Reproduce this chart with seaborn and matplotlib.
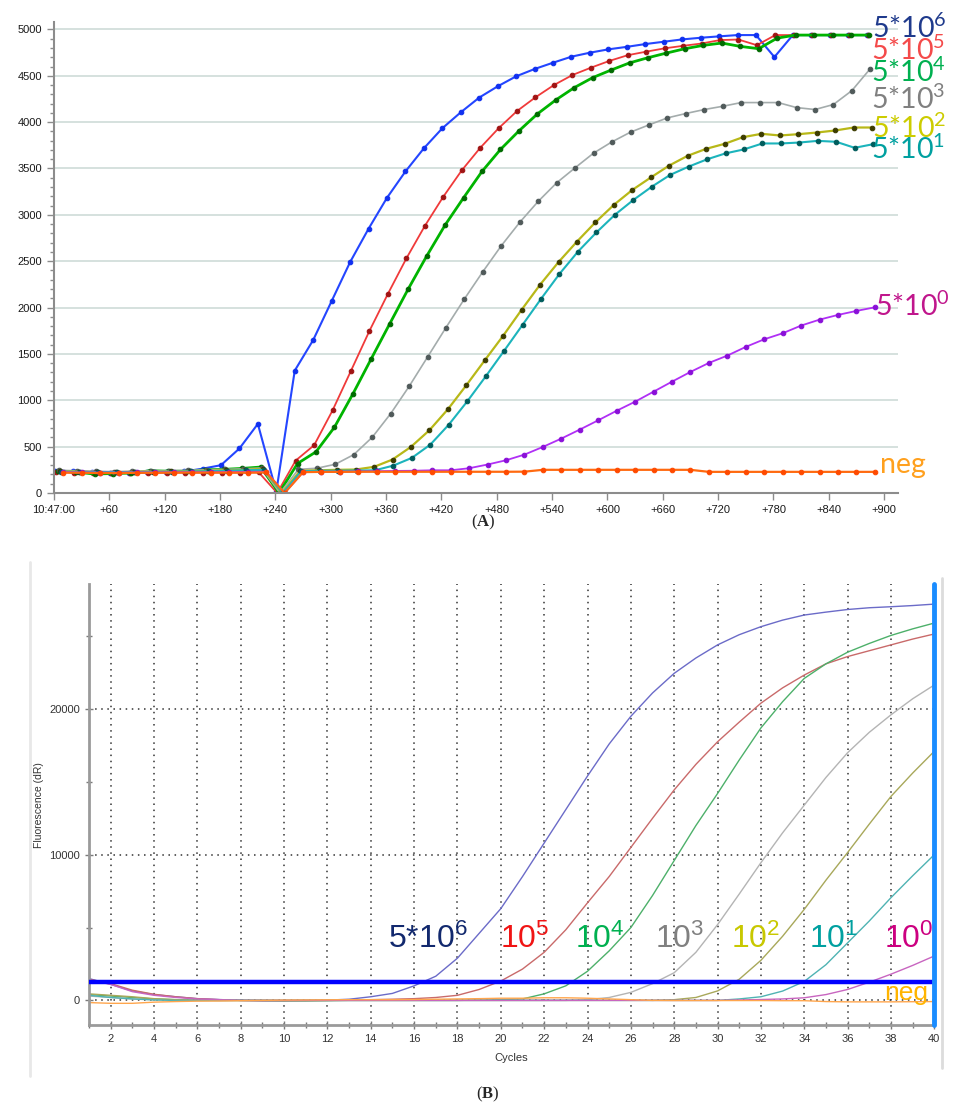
import numpy as np
import pandas as pd
import matplotlib
matplotlib.use("Agg")
import matplotlib.pyplot as plt
import seaborn as sns
from matplotlib.lines import Line2D
from matplotlib.ticker import MultipleLocator

sns.set_style("ticks")
plt.rcParams["font.family"] = ["Liberation Sans", "DejaVu Sans"]
plt.rcParams["mathtext.default"] = "regular"
plt.rcParams["mathtext.fontset"] = "custom"
plt.rcParams["mathtext.bf"] = "Liberation Serif:bold"

# ---------------- Panel A data (fluorescence vs time, 20 s sampling) ----------------
t_base = np.arange(0, 900, 20)
a_names = ["5*10$^{6}$", "5*10$^{5}$", "5*10$^{4}$", "5*10$^{3}$",
           "5*10$^{2}$", "5*10$^{1}$", "5*10$^{0}$", "neg"]
a_offsets = [1, 2, 4, 5, 7, 8, 10, 10]   # channel read-out delay (s)

a_1e6 = [240, 235, 225, 215, 220, 225, 230, 232, 262, 300, 480, 745, 15, 1320, 1650,
         2070, 2490, 2850, 3184, 3468, 3718, 3934, 4106, 4265, 4386, 4494, 4573, 4641,
         4706, 4749, 4785, 4812, 4842, 4867, 4892, 4910, 4925, 4939, 4939, 4702, 4939,
         4939, 4939, 4939, 4939]
a_1e5 = [225, 220, 215, 215, 218, 218, 220, 220, 220, 220, 220, 222, 0, 350, 515,
         891, 1319, 1749, 2148, 2530, 2880, 3195, 3479, 3722, 3934, 4120, 4268, 4400,
         4508, 4587, 4660, 4722, 4760, 4796, 4823, 4848, 4885, 4891, 4830, 4939, 4939,
         4939, 4939, 4939, 4939]
a_1e4 = [240, 225, 205, 210, 215, 240, 235, 235, 250, 255, 265, 280, 0, 318, 444,
         709, 1068, 1449, 1826, 2200, 2555, 2890, 3184, 3468, 3705, 3905, 4088, 4239,
         4372, 4480, 4562, 4639, 4695, 4745, 4792, 4828, 4853, 4817, 4792, 4906, 4939,
         4939, 4939, 4939, 4939]
a_1e3 = [245, 240, 235, 230, 235, 240, 240, 245, 250, 255, 260, 270, 0, 255, 267,
         310, 414, 601, 856, 1150, 1467, 1785, 2094, 2388, 2668, 2920, 3146, 3346,
         3508, 3666, 3788, 3892, 3970, 4046, 4093, 4136, 4171, 4211, 4211, 4211, 4157,
         4136, 4190, 4340, 4577]
a_1e2 = [235, 230, 225, 225, 228, 230, 232, 235, 240, 245, 250, 260, 0, 240, 245,
         250, 253, 282, 361, 498, 677, 903, 1162, 1431, 1697, 1977, 2247, 2491,
         2712, 2920, 3108, 3269, 3403, 3532, 3637, 3712, 3766, 3838, 3874, 3856, 3870,
         3888, 3910, 3942, 3942]
a_1e1 = [230, 228, 225, 225, 225, 228, 230, 232, 235, 240, 245, 250, 0, 235, 240,
         240, 242, 245, 296, 379, 522, 737, 988, 1257, 1534, 1814, 2094, 2363,
         2603, 2810, 3000, 3160, 3303, 3431, 3520, 3599, 3663, 3706, 3770, 3770, 3780,
         3798, 3788, 3723, 3762]
a_1e0 = [225, 222, 220, 220, 222, 222, 225, 225, 225, 228, 228, 230, 0, 225, 228,
         230, 232, 235, 238, 240, 245, 245, 267, 307, 353, 414, 497, 587,
         684, 784, 887, 985, 1093, 1201, 1306, 1403, 1482, 1576, 1658, 1723, 1806,
         1870, 1921, 1964, 2003]
a_neg = [220, 218, 215, 215, 218, 218, 220, 220, 220, 220, 220, 222, 0, 225, 228,
         228, 229, 229, 229, 229, 229, 229, 229, 229, 229, 230, 250, 250,
         250, 250, 250, 250, 250, 250, 250, 228, 228, 228, 228, 228, 228,
         228, 228, 228, 228]
a_values = [a_1e6, a_1e5, a_1e4, a_1e3, a_1e2, a_1e1, a_1e0, a_neg]

a_line_colors = ["#2446ff", "#f03a3a", "#00b400", "#a4acac", "#b8b818", "#1cb4bc", "#b030f5", "#ff6a10"]
a_mark_colors = ["#1030f0", "#a01414", "#006a00", "#505a5a", "#3c3c00", "#005c5c", "#8a10d8", "#ff4a00"]
a_widths = [1.5, 1.3, 2.0, 1.2, 1.6, 1.5, 1.3, 1.6]
a_label_colors = ["#1f3a8c", "#f44a4a", "#00b050", "#808080", "#cccc00", "#00a0a0", "#c0168c", "#ffa01e"]
a_label_y = [4910, 4666, 4433, 4146, 3834, 3597, 1910, 217]
a_label_x = [887, 886, 886, 886, 887, 886, 890, 896]

# ---------------- Panel B data (qPCR amplification, cycles 1-40) ----------------
cycles = np.arange(1, 41)
b_names = ["5*10$^{6}$", "10$^{5}$", "10$^{4}$", "10$^{3}$", "10$^{2}$", "10$^{1}$", "10$^{0}$", "neg"]
b_1e6 = [1500, 1100, 650, 400, 250, 120, 60, 0, -30, -20, 0, 20, 80, 250, 480, 1000,
         1660, 2900, 4600, 6300, 8500, 10800, 13100, 15400, 17600, 19500, 21100, 22450,
         23500, 24400, 25100, 25650, 26100, 26450, 26650, 26830, 26950, 27020, 27100, 27200]
b_1e5 = [1450, 1150, 700, 420, 250, 120, 50, 0, -20, -30, -20, 0, 20, 50, 80, 120,
         200, 350, 750, 1330, 2150, 3300, 4850, 6700, 8500, 10500, 12500, 14450,
         16200, 17750, 19100, 20400, 21450, 22330, 23100, 23600, 24000, 24400, 24800, 25150]
b_1e4 = [400, 300, 200, 100, 50, 20, 0, 0, 0, -20, -30, -20, 0, 0, 0, 0,
         0, 0, 20, 50, 100, 450, 1000, 2000, 3400, 5000, 7200, 9600,
         12000, 14200, 16500, 18700, 20500, 22100, 23100, 23900, 24500, 25050, 25500, 25900]
b_1e3 = [300, 200, 100, 50, 20, 0, 0, 0, 0, 0, 0, 0, 0, 0, 0, 0,
         0, 0, 0, 0, 0, 0, 0, 50, 200, 550, 1150, 1900,
         3300, 5200, 7300, 9450, 11500, 13400, 15300, 17000, 18400, 19600, 20700, 21650]
b_1e2 = [450, 350, 250, 120, 50, 0, 0, 0, 0, 0, 0, 0, 0, 0, 0, 0,
         0, 0, 0, 0, 0, 0, 0, 0, 0, 0, 0, 50,
         200, 650, 1450, 2750, 4400, 6250, 8250, 10150, 12100, 14000, 15600, 17100]
b_1e1 = [350, 200, 100, 30, 0, 0, 0, 0, 0, 0, 0, 0, 0, 0, 0, 0,
         0, 0, 0, 0, 0, 0, 0, 0, 0, 0, 0, 0,
         0, 0, 100, 250, 640, 1300, 2450, 3950, 5450, 7050, 8550, 10000]
b_1e0 = [1400, 1100, 600, 350, 200, 100, 50, 0, 0, 0, 0, 0, 0, 0, 0, 0,
         0, 0, 0, 0, 0, 0, 0, 0, 0, 0, 0, 0,
         0, 0, 30, 60, 100, 180, 400, 750, 1250, 1800, 2400, 3050]
b_neg = [-150, -200, -200, -120, -80, -50, -40, -20, 0, 20, 30, 40, 50, 50, 50, 60,
         80, 100, 120, 150, 150, 180, 180, 150, 100, 50, 0, -10,
         -10, -10, -10, -10, -20, -20, -80, -100, -100, -100, -90, -80]
b_values = [b_1e6, b_1e5, b_1e4, b_1e3, b_1e2, b_1e1, b_1e0, b_neg]
threshold = 1270

b_line_colors = ["#6b6bc8", "#c96a6a", "#4db06a", "#b4b4b4", "#a8a85a", "#4fb3b3", "#c865c0", "#ffa64d"]
b_label_colors = ["#12296e", "#f01414", "#00b050", "#808080", "#c8c800", "#00a0a0", "#cc0080", "#ffb400"]
b_label_x = [14.8, 19.95, 23.4, 27.1, 30.6, 34.2, 37.7, 37.7]
b_label_y = [3576, 3576, 3576, 3576, 3576, 3576, 3576, 30]
b_label_size = [23, 23, 23, 23, 23, 23, 23, 19]

# ---------------- Figure ----------------
W, H = 965, 1106
fig = plt.figure(figsize=(W / 100, H / 100), dpi=100)

# Panel A
axA = fig.add_axes([54 / W, 1 - 493 / H, 844 / W, 471 / H])
for vals, off, lc, mc, lw in zip(a_values, a_offsets, a_line_colors, a_mark_colors, a_widths):
    sns.lineplot(x=t_base + off, y=vals, ax=axA, estimator=None, sort=False,
                 color=lc, lw=lw, marker="o", markersize=3.3,
                 markerfacecolor=mc, markeredgecolor=mc, legend=False)
axA.set_xlim(0, 915)
axA.set_ylim(0, 5080)
axA.set_xticks(np.arange(0, 901, 60))
axA.set_xticklabels(["10:47:00"] + [f"+{v}" for v in range(60, 901, 60)])
axA.set_yticks(np.arange(0, 5001, 500))
axA.yaxis.set_minor_locator(MultipleLocator(100))
axA.grid(axis="y", color="#d2dedb", lw=1.3)
axA.set_axisbelow(True)
for s in ["top", "right"]:
    axA.spines[s].set_visible(False)
for s in ["left", "bottom"]:
    axA.spines[s].set_color("#8c8c8c")
    axA.spines[s].set_linewidth(1.5)
axA.tick_params(axis="both", which="major", labelsize=8, colors="#8c8c8c",
                labelcolor="#1a1a1a", length=5, width=1)
axA.tick_params(axis="y", which="minor", length=3, width=1, colors="#8c8c8c")
axA.set_xlabel("")
axA.set_ylabel("")
for name, col, ly, lx in zip(a_names, a_label_colors, a_label_y, a_label_x):
    axA.text(lx, ly, name, color=col, fontsize=20.5, family=["Lato", "DejaVu Sans"],
             ha="left", va="baseline", clip_on=False)

fig.text(483 / W, 1 - 522 / H, r"($\mathbf{A}$)", ha="center", va="center",
         fontsize=12, family=["Liberation Serif"])

# Panel B
axB = fig.add_axes([89 / W, 1 - 1025.3 / H, 845.3 / W, 441.3 / H])
dfB = pd.DataFrame({
    "Cycles": np.tile(cycles, len(b_names)),
    "Fluorescence": np.concatenate(b_values),
    "Sample": np.repeat(b_names, len(cycles)),
})
sns.lineplot(data=dfB, x="Cycles", y="Fluorescence", hue="Sample", hue_order=b_names,
             palette=b_line_colors, estimator=None, lw=1.0, legend=False, ax=axB)
axB.set_xlim(1, 40)
axB.set_ylim(-1709, 28580)
axB.axhline(threshold, color="#0000ff", lw=3.2, zorder=5)
axB.axvline(40, color="#1a8cff", lw=3.5, zorder=6, clip_on=False)
for xv in range(2, 40, 2):
    axB.axvline(xv, color="#333333", lw=1.1, ls=(0, (1, 3)), zorder=0)
for yv in [0, 10000, 20000]:
    axB.axhline(yv, color="#333333", lw=1.1, ls=(0, (1, 3)), zorder=0)
axB.set_xticks(np.arange(2, 41, 2))
axB.xaxis.set_minor_locator(MultipleLocator(1))
axB.set_yticks([0, 10000, 20000])
axB.yaxis.set_minor_locator(MultipleLocator(5000))
for s in ["top", "right"]:
    axB.spines[s].set_visible(False)
for s in ["left", "bottom"]:
    axB.spines[s].set_color("#9a9a9a")
    axB.spines[s].set_linewidth(2)
axB.tick_params(axis="both", which="both", direction="inout", colors="#7a7a7a",
                labelcolor="#333333", labelsize=8, length=6, width=1)
axB.tick_params(axis="both", which="minor", length=5)
axB.set_xlabel("Cycles", fontsize=8, color="#333333", labelpad=6)
axB.set_ylabel("Fluorescence (dR)", fontsize=7.5, color="#333333", labelpad=4)
for name, col, lx, ly, fs in zip(b_names, b_label_colors, b_label_x, b_label_y, b_label_size):
    axB.text(lx, ly, name, color=col, fontsize=fs, ha="left", va="baseline", zorder=7)

# software window frame edges
fig.add_artist(Line2D([30 / W, 30 / W], [1 - 562 / H, 1 - 1076 / H], color="#e8e8e8", lw=2))
fig.add_artist(Line2D([942 / W, 942 / W], [1 - 578 / H, 1 - 1068 / H], color="#dcdcdc", lw=2))

fig.text(488 / W, 1 - 1094 / H, r"($\mathbf{B}$)", ha="center", va="center",
         fontsize=12, family=["Liberation Serif"])

fig.savefig("out.png", dpi=100)
